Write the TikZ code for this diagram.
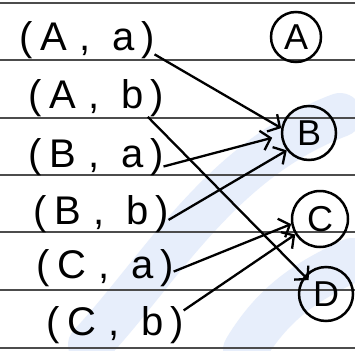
\documentclass[tikz,border=0pt]{standalone}
\usepackage{fontspec}
\setmainfont{Liberation Sans}
\usetikzlibrary{arrows.meta}
\definecolor{wmblue}{RGB}{231,238,251}
\newcommand{\pairtxt}[2]{(\hspace{8pt}#1\hspace{12pt},\hspace{22pt}#2\hspace{6pt})}
\begin{document}
\begin{tikzpicture}[x=1pt,y=-1pt,
  rule/.style={draw=black!70,line width=1.4pt},
  pairlbl/.style={font=\fontsize{40}{40}\selectfont, inner sep=0pt},
  setnode/.style={draw,circle,line width=2.5pt,font=\fontsize{36}{36}\selectfont,inner sep=0pt},
  link/.style={line width=2.3pt,-{Straight Barb[length=9pt,width=20pt,line width=2.3pt]}},
  wm/.style={draw=wmblue, line width=44pt, line cap=round}]
\useasboundingbox (0,0) rectangle (355,350);
\fill[white] (0,0) rectangle (355,350);
% faint watermark
\draw[wm] (90,345) .. controls (160,270) and (220,160) .. (340,115);
\draw[wm] (245,350) .. controls (275,300) and (310,280) .. (352,260);
% ruled lines
\foreach \yy in {3,60,118,175,232,290,348} \draw[rule] (0,\yy) -- (355,\yy);
% pairs
\node[pairlbl] (Aa) at (87,40) {\pairtxt{A}{a}};
\node[pairlbl] (Ab) at (96,98) {\pairtxt{A}{b}};
\node[pairlbl] (Ba) at (96,157) {\pairtxt{B}{a}};
\node[pairlbl] (Bb) at (101,214) {\pairtxt{B}{b}};
\node[pairlbl] (Ca) at (105,268) {\pairtxt{C}{a}};
\node[pairlbl] (Cb) at (115,325) {\pairtxt{C}{b}};
% sets
\node[setnode,minimum size=50pt] (A) at (296,37) {A};
\node[setnode,minimum size=54pt] (B) at (309,133) {B};
\node[setnode,minimum size=56pt] (C) at (320,219) {C};
\node[setnode,minimum size=54pt] (D) at (326,294) {D};
% arrows
\draw[link] (Aa.-12) -- (B.170);
\draw[link,shorten >=-6pt] (Ab.-20) -- (D.140);
\draw[link,shorten >=9pt] (Ba.-8) -- (B.185);
\draw[link] (Bb.-5) -- (B.218);
\draw[link] (Ca.-3) -- (C.190);
\draw[link] (Cb.12) -- (C.212);
\end{tikzpicture}
\end{document}
